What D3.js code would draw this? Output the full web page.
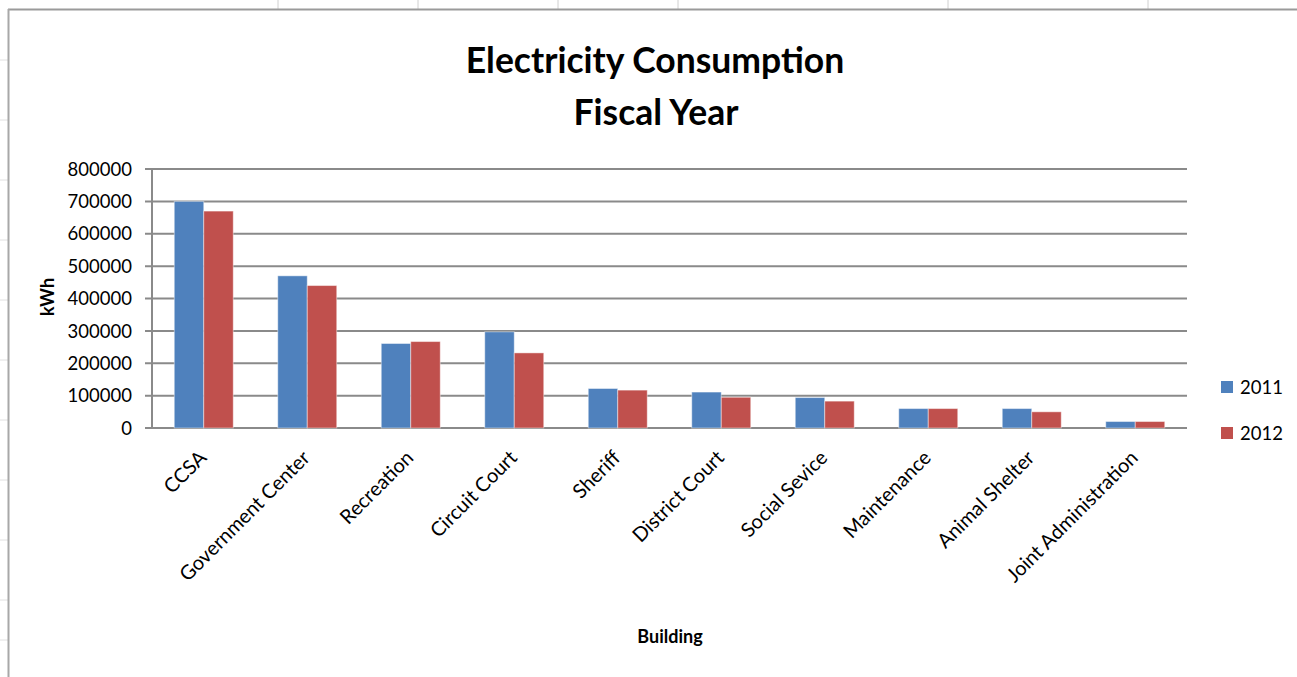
<!DOCTYPE html>
<html>
<head>
<meta charset="utf-8">
<script src="https://cdn.jsdelivr.net/npm/d3@7/dist/d3.min.js"></script>
<style>
  body { margin: 0; background: #fff; }
  svg { display: block; }
  .lbl { font-family: Lato, 'Open Sans', sans-serif; fill: #000; }
</style>
</head>
<body>
<div id="chart"></div>
<script>
const buildings = ['CCSA', 'Government Center', 'Recreation', 'Circuit Court', 'Sheriff',
  'District Court', 'Social Sevice', 'Maintenance', 'Animal Shelter', 'Joint Administration'];
const years = ['2011', '2012'];
const kwh_2011 = [700000, 470000, 261000, 297000, 122000, 111000, 94000, 60000, 60000, 20000];
const kwh_2012 = [670000, 440000, 267000, 232000, 117000, 95000, 83000, 60000, 50000, 20000];
const y_ticks = [0, 100000, 200000, 300000, 400000, 500000, 600000, 700000, 800000];
const sheet_cols = [278, 418, 558, 678, 948, 1148];
const sheet_rows = [60, 120, 180, 240, 300, 360, 420, 480, 540, 600, 640];

const year_colors = { '2011': '#4F81BD', '2012': '#C0504D' };
const grid_color = '#8a8a8a';

const width = 1297, height = 677;

const x = d3.scaleBand().domain(buildings).range([152, 1187]).paddingInner(0.43).paddingOuter(0.215);
const x_year = d3.scaleBand().domain(years).range([0, x.bandwidth()]);
const y = d3.scaleLinear().domain([0, 800000]).range([428, 169]);

const svg = d3.select('#chart').append('svg')
  .attr('width', width)
  .attr('height', height);

// spreadsheet cells behind the chart object
svg.selectAll('.sheet_col')
  .data(sheet_cols)
  .enter()
  .append('line')
    .attr('x1', (d) => d).attr('x2', (d) => d)
    .attr('y1', 0).attr('y2', 9)
    .style('stroke', '#d0d0d0')
    .style('stroke-width', 1);
svg.selectAll('.sheet_row')
  .data(sheet_rows)
  .enter()
  .append('line')
    .attr('x1', 0).attr('x2', 8)
    .attr('y1', (d) => d).attr('y2', (d) => d)
    .style('stroke', '#e0e0e0')
    .style('stroke-width', 1);

// chart frame
svg.append('line').attr('x1', 8).attr('x2', width).attr('y1', 9.5).attr('y2', 9.5)
  .style('stroke', '#9a9a9a').style('stroke-width', 2);
svg.append('line').attr('x1', 8.5).attr('x2', 8.5).attr('y1', 9).attr('y2', height)
  .style('stroke', '#a8a8a8').style('stroke-width', 2);

// title
svg.append('text').attr('class', 'lbl')
  .attr('x', 655).attr('y', 73)
  .attr('text-anchor', 'middle')
  .style('font-weight', 'bold').style('font-size', '35.5px')
  .text('Electricity Consumption');
svg.append('text').attr('class', 'lbl')
  .attr('x', 656).attr('y', 125)
  .attr('text-anchor', 'middle')
  .style('font-weight', 'bold').style('font-size', '35.5px')
  .text('Fiscal Year');

// gridlines
svg.append('g')
  .selectAll('line')
  .data(y_ticks)
  .enter()
  .append('line')
    .attr('x1', 145).attr('x2', 1187)
    .attr('y1', (d) => y(d)).attr('y2', (d) => y(d))
    .style('stroke', grid_color)
    .style('stroke-width', 2);

svg.append('line')
  .attr('x1', 152).attr('x2', 152)
  .attr('y1', y(800000)).attr('y2', y(0))
  .style('stroke', grid_color)
  .style('stroke-width', 2);

// y tick labels
svg.append('g')
  .selectAll('text')
  .data(y_ticks)
  .enter()
  .append('text')
    .attr('class', 'lbl')
    .attr('x', 132)
    .attr('y', (d) => y(d))
    .attr('dy', '0.36em')
    .attr('text-anchor', 'end')
    .style('font-size', '18.5px')
    .text((d) => d);

// bars
const rows = buildings.map((b, i) => ({ building: b, values: [
  { year: '2011', value: kwh_2011[i] },
  { year: '2012', value: kwh_2012[i] }
]}));

const groups = svg.selectAll('.bar_group')
  .data(rows)
  .enter()
  .append('g')
    .attr('class', 'bar_group')
    .attr('transform', (d) => 'translate(' + x(d.building) + ',0)');

groups.selectAll('rect')
  .data((d) => d.values)
  .enter()
  .append('rect')
    .attr('x', (d) => x_year(d.year))
    .attr('y', (d) => y(d.value))
    .attr('width', x_year.bandwidth())
    .attr('height', (d) => y(0) - y(d.value))
    .attr('fill', (d) => year_colors[d.year])
    .style('stroke', 'rgba(255,255,255,0.45)')
    .style('stroke-width', 1);

// category labels
svg.append('g')
  .selectAll('text')
  .data(buildings)
  .enter()
  .append('text')
    .attr('class', 'lbl')
    .attr('text-anchor', 'end')
    .attr('transform', (d) => 'translate(' + (x(d) + x.bandwidth() / 2 + 4) + ',' + 459 + ') rotate(-45)')
    .style('font-size', '20px')
    .text((d) => d);

// axis titles
svg.append('text').attr('class', 'lbl')
  .attr('transform', 'translate(54,297) rotate(-90)')
  .attr('text-anchor', 'middle')
  .style('font-weight', 'bold').style('font-size', '18px')
  .text('kWh');

svg.append('text').attr('class', 'lbl')
  .attr('x', 670).attr('y', 643)
  .attr('text-anchor', 'middle')
  .style('font-weight', 'bold').style('font-size', '18px')
  .text('Building');

// legend
const legend = svg.selectAll('.legend_item')
  .data(years)
  .enter()
  .append('g')
    .attr('class', 'legend_item')
    .attr('transform', (d, i) => 'translate(1221,' + (381 + i * 46) + ')');

legend.append('rect')
  .attr('width', 12).attr('height', 12)
  .attr('fill', (d) => year_colors[d]);

legend.append('text').attr('class', 'lbl')
  .attr('x', 19).attr('y', 6)
  .attr('dy', '0.36em')
  .style('font-size', '18.5px')
  .text((d) => d);
</script>
</body>
</html>
